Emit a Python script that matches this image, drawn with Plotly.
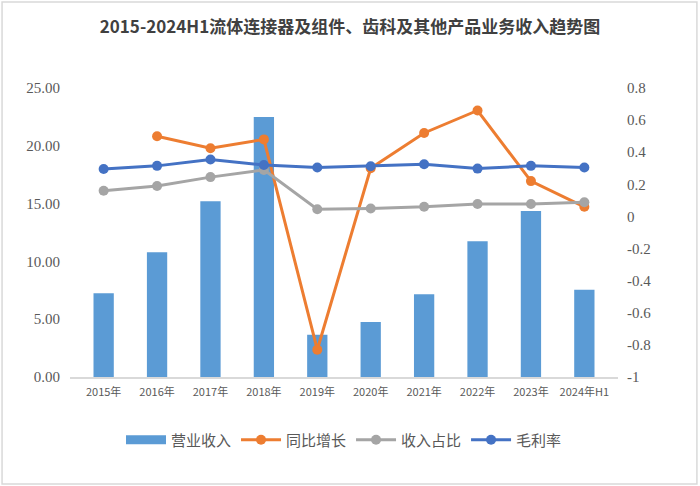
import plotly.graph_objects as go

# categories and series
years = ["2015年", "2016年", "2017年", "2018年", "2019年",
         "2020年", "2021年", "2022年", "2023年", "2024年H1"]
revenue = [7.25, 10.8, 15.2, 22.5, 3.65, 4.75, 7.15, 11.75, 14.35, 7.55]
yoy_growth = [None, 0.50, 0.425, 0.48, -0.83, 0.30, 0.52, 0.66, 0.22, 0.06]
revenue_share = [0.16, 0.19, 0.245, 0.29, 0.045, 0.05, 0.06, 0.078, 0.078, 0.088]
gross_margin = [0.295, 0.315, 0.355, 0.32, 0.305, 0.313, 0.325, 0.298, 0.315, 0.305]

left_ticks = [0, 5, 10, 15, 20, 25]
right_ticks = [-1, -0.8, -0.6, -0.4, -0.2, 0, 0.2, 0.4, 0.6, 0.8]

fig = go.Figure()

# legend-only entry so the bar swatch is a wide flat block like the original
fig.add_trace(go.Scatter(
    x=[years[0]], y=[None], name="营业收入", mode="lines",
    line=dict(color="#5B9BD5", width=9),
))

# bars on the left axis
fig.add_trace(go.Bar(
    x=years, y=revenue, name="营业收入", showlegend=False,
    marker=dict(color="#5B9BD5", line=dict(width=0)),
))

# lines on the right axis
line_series = [
    ("同比增长", yoy_growth, "#ED7D31"),
    ("收入占比", revenue_share, "#A5A5A5"),
    ("毛利率", gross_margin, "#4472C4"),
]
for name, vals, color in line_series:
    fig.add_trace(go.Scatter(
        x=years, y=vals, name=name, yaxis="y2",
        mode="lines+markers",
        line=dict(color=color, width=3),
        marker=dict(color=color, size=10),
    ))

tick_font = dict(family="Liberation Serif, serif", size=15, color="#595959")

fig.update_layout(
    width=700, height=486,
    margin=dict(l=70, r=82, t=88, b=109),
    paper_bgcolor="white", plot_bgcolor="white",
    title=dict(
        text="<b>2015-2024H1流体连接器及组件、齿科及其他产品业务收入趋势图</b>",
        x=0.5, xanchor="center", y=0.945, yanchor="middle",
        font=dict(family="Noto Sans CJK SC", size=17, color="#404040"),
    ),
    bargap=0.62,
    showlegend=True,
    legend=dict(
        orientation="h", x=0.5, xanchor="center", y=-0.218, yanchor="middle",
        font=dict(family="Noto Sans CJK SC", size=15, color="#595959"),
        itemwidth=40, traceorder="normal",
    ),
    xaxis=dict(
        type="category", categoryorder="array", categoryarray=years,
        showgrid=False, showline=True, linecolor="#D9D9D9", linewidth=1.5,
        ticks="", ticklabelstandoff=4,
        tickfont=dict(family="Noto Sans CJK SC", size=11, color="#595959"),
    ),
    yaxis=dict(
        range=[0, 25], tickvals=left_ticks,
        ticktext=[f"{v:.2f}" for v in left_ticks],
        showgrid=False, zeroline=False, showline=False,
        ticklabelstandoff=9, tickfont=tick_font,
    ),
    yaxis2=dict(
        overlaying="y", side="right", range=[-1, 0.8],
        tickvals=right_ticks, ticktext=[f"{v:g}" for v in right_ticks],
        showgrid=False, zeroline=False, showline=False,
        ticklabelstandoff=8, tickfont=tick_font,
    ),
)

# light frame around the whole chart
fig.add_shape(
    type="rect", xref="paper", yref="paper",
    x0=-0.124, x1=1.144, y0=-0.370, y1=1.298,
    line=dict(color="#D9D9D9", width=1.5),
)

# drop the default page margin so the figure sits at the window's corner
fig.write_html("out.html", config={"displayModeBar": False},
               post_script="document.body.style.margin='0';")
